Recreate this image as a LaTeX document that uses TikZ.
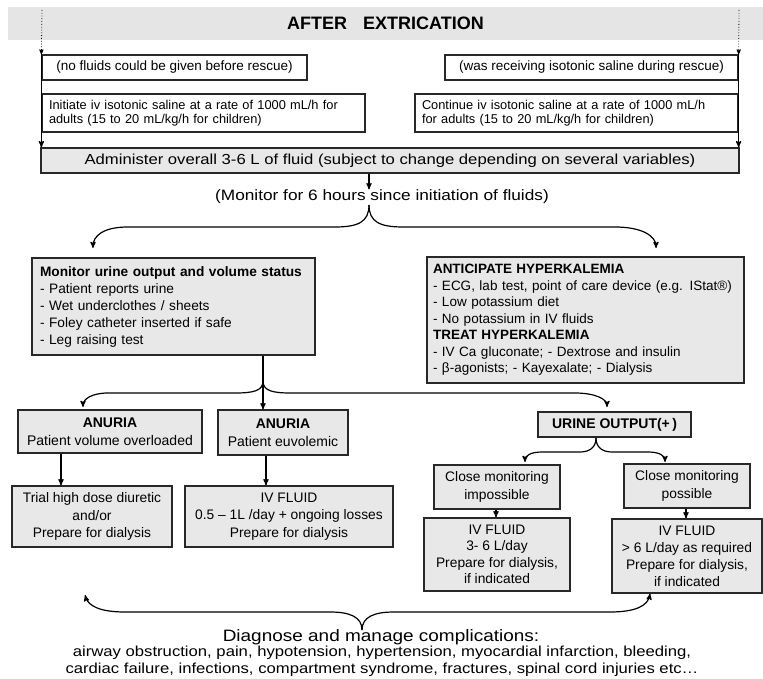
\documentclass[tikz,border=0pt]{standalone}
\usepackage{fontspec}
\setmainfont{Liberation Sans}
\newfontfamily\widefont[FakeStretch=1.15]{Liberation Sans}
\usepackage{tikz}
\usetikzlibrary{arrows}

\definecolor{boxgray}{RGB}{232,232,232}
\definecolor{bandgray}{RGB}{229,229,229}
\definecolor{edgegray}{RGB}{40,40,40}

\newcommand{\fs}[2]{\fontsize{#1}{#2}\selectfont}

\begin{document}
\begin{tikzpicture}
%   one unit = one pixel of the reference
[x=1pt,y=-1pt,->,>=stealth',line width=1.2pt,
  box/.style={draw=edgegray,line width=1.3pt,rectangle,inner sep=0pt,align=center},
  white box/.style={box,fill=white},
  grey box/.style={box,fill=boxgray},
  txt/.style={inner sep=0pt,align=center}]
  \useasboundingbox (0,0) rectangle (763,679);

  \node[fill=bandgray,minimum width=755pt,minimum height=33pt,inner sep=0pt,font=\fs{18}{20}\bfseries] (n1) at (385.5,23.5) {AFTER\hspace{16pt}EXTRICATION};

  \node[white box,minimum width=265pt,minimum height=25pt,font=\fs{13.5}{15}] (n1n1) at (174.5,67.5) {(no fluids could be given before rescue)};
  \node[white box,minimum width=293pt,minimum height=25pt,font=\fs{13.5}{15}] (n1n2) at (591.5,67.5) {(was receiving isotonic saline during rescue)};

  \node[white box,text width=309pt,inner xsep=7pt,minimum height=38pt,align=left,font=\fs{12.8}{14}] (n1n1n1) at (203.5,113) {Initiate iv isotonic saline at a rate of 1000 mL/h for\\adults (15 to 20 mL/kg/h for children)};
  \node[white box,text width=309pt,inner xsep=7pt,minimum height=38pt,align=left,font=\fs{12.8}{14}] (n1n2n1) at (576.5,113) {Continue iv isotonic saline at a rate of 1000 mL/h\\for adults (15 to 20 mL/kg/h for children)};

  \node[grey box,minimum width=698pt,minimum height=25pt,font=\widefont\fs{14.5}{16}] (n2) at (390,160.5) {Administer overall 3-6 L of fluid (subject to change depending on several variables)};
  \node[txt,font=\widefont\fs{15}{17}] (n2n1) at (382,197) {(Monitor for 6 hours since initiation of fluids)};

  \node[grey box,text width=267pt,inner xsep=8pt,minimum height=97pt,align=left,font=\fs{13.7}{17}] (n3) at (173.5,306.5) {\textbf{Monitor urine output and volume status}\\- Patient reports urine\\- Wet underclothes / sheets\\- Foley catheter inserted if safe\\- Leg raising test};
  \node[grey box,text width=305pt,inner xsep=6pt,minimum height=126pt,align=left,font=\fs{13.5}{16.5}] (n4) at (585.5,320) {\textbf{ANTICIPATE HYPERKALEMIA}\\- ECG, lab test, point of care device (e.g. IStat®)\\- Low potassium diet\\- No potassium in IV fluids\\\textbf{TREAT HYPERKALEMIA}\\- IV Ca gluconate; - Dextrose and insulin\\- β-agonists; - Kayexalate; - Dialysis};

  \node[grey box,minimum width=184pt,minimum height=43pt,font=\fs{14}{18}] (n3n1) at (110,431.5) {\textbf{ANURIA}\\Patient volume overloaded};
  \node[grey box,minimum width=130pt,minimum height=45pt,font=\fs{14}{18}] (n3n2) at (283,432.5) {\textbf{ANURIA}\\Patient euvolemic};
  \node[grey box,minimum width=153pt,minimum height=25pt,font=\fs{14}{16}] (n3n3) at (614.5,424.5) {\textbf{URINE OUTPUT(+\,)}};

  \node[grey box,minimum width=160pt,minimum height=61pt,font=\fs{13.8}{17.5}] (n3n1n1) at (92,516.5) {Trial high dose diuretic\\and/or\\Prepare for dialysis};
  \node[grey box,minimum width=208pt,minimum height=61pt,font=\fs{13.8}{17.5}] (n3n2n1) at (289,516.5) {IV FLUID\\0.5 – 1L /day + ongoing losses\\Prepare for dialysis};

  \node[grey box,minimum width=126pt,minimum height=44pt,font=\fs{13.8}{18}] (n3n3n1) at (497,487) {Close monitoring\\impossible};
  \node[grey box,minimum width=126pt,minimum height=44pt,font=\fs{13.8}{18}] (n3n3n2) at (687,486) {Close monitoring\\possible};
  \node[grey box,minimum width=146pt,minimum height=73pt,font=\fs{13.8}{16.5}] (n3n3n1n1) at (497,554.5) {IV FLUID\\3- 6 L/day\\Prepare for dialysis,\\if indicated};
  \node[grey box,minimum width=150pt,minimum height=74pt,font=\fs{13.8}{17}] (n3n3n2n1) at (687,556) {IV FLUID\\> 6 L/day as required\\Prepare for dialysis,\\if indicated};

  \node[txt,font=\widefont\fs{16.5}{18}] (n5) at (381,637) {Diagnose and manage complications:};
  \node[txt,font=\widefont\fs{14.5}{17}] (n5n1) at (382,661.5) {airway obstruction, pain, hypotension, hypertension, myocardial infarction, bleeding,\\cardiac failure, infections, compartment syndrome, fractures, spinal cord injuries etc…};

  % entries from the top band
  \coordinate (in1) at (42,10);
  \coordinate (in2) at (739,10);
  \draw[dotted,line width=0.8pt] (in1) -- (n1n1.north west);
  \draw[dotted,line width=0.8pt] (in2) -- (n1n2.north east);
  \draw (n1n1.north west) -- (n1n1.west |- n2.north);
  \draw (n1n2.north east) -- (n1n2.east |- n2.north);

  % monitoring and first split
  \coordinate (b1) at (369,205);
  \coordinate (t1) at (93,248);
  \coordinate (t2) at (656,248);
  \draw (n2.south -| b1) -- (n2n1.north -| b1);
  \draw (b1) .. controls (369,222) and (358,227) .. (335,227) -- (128,227) .. controls (103,227) and (93,236) .. (t1);
  \draw (b1) .. controls (369,222) and (380,227) .. (403,227) -- (615,227) .. controls (642,227) and (656,236) .. (t2);

  % split below the urine monitoring
  \coordinate (b2) at (263,381);
  \coordinate (t3) at (83,407);
  \coordinate (t4) at (607,407);
  \draw (n3.south -| b2) -- (n3n2.north -| b2);
  \draw (b2) .. controls (263,391) and (253,393) .. (235,393) -- (108,393) .. controls (92,393) and (83,399) .. (t3);
  \draw (b2) .. controls (263,391) and (273,393) .. (291,393) -- (575,393) .. controls (595,393) and (607,399) .. (t4);

  % split below urine output
  \coordinate (b3) at (596,438);
  \coordinate (t5) at (525,462);
  \coordinate (t6) at (665,462);
  \draw (b3) .. controls (596,447) and (590,452) .. (580,452) -- (542,452) .. controls (530,452) and (525,456) .. (t5);
  \draw (b3) .. controls (596,447) and (602,452) .. (612,452) -- (648,452) .. controls (660,452) and (665,456) .. (t6);

  \foreach \from/\to/\x in {n3n1/n3n1n1/61, n3n2/n3n2n1/266,
      n3n3n1/n3n3n1n1/496, n3n3n2/n3n3n2n1/686}
     \draw (\from.south -| \x,0) -- (\to.north -| \x,0);

  % complications
  \coordinate (b4) at (362,630);
  \coordinate (t7) at (85,595);
  \draw (b4) .. controls (362,617) and (350,612) .. (330,612) -- (125,612) .. controls (100,612) and (88,606) .. (t7);
  \draw (b4) .. controls (362,617) and (374,612) .. (394,612) -- (610,612) .. controls (635,612) and (648,606) .. (n3n3n2n1.south -| 650,0);

\end{tikzpicture}
\end{document}
